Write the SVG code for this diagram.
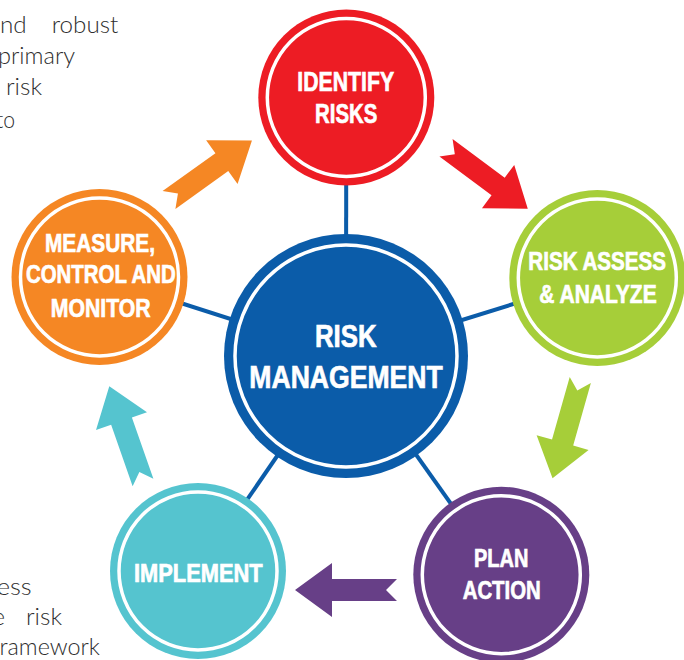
<svg xmlns="http://www.w3.org/2000/svg" xmlns:xlink="http://www.w3.org/1999/xlink" width="684" height="660" viewBox="0 0 684 660">
  <style>
    .body { font-family: Lato, "Liberation Sans", sans-serif; font-weight: 300; font-size: 22.5px; fill: #2e2e2e; }
    .lbl { font-family: "Liberation Sans Narrow", "Liberation Sans", Arial, sans-serif; font-weight: bold; fill: #ffffff; stroke: #ffffff; stroke-width: 0.7; text-anchor: middle; }
    .ring { fill: none; stroke: #ffffff; stroke-width: 3.5; }
    .link { stroke: #0b5ca9; stroke-width: 4; fill: none; }
  </style>
  <defs>
    <!-- block arrow with swallow tail, tail centre at origin, pointing +x -->
    <path id="blockArrow" d="M0,-11 L65,-11 L65,-27 L102,0 L65,27 L65,11 L0,11 L11,0 Z"/>
  </defs>

  <rect width="684" height="660" fill="#ffffff"/>

  <!-- surrounding paragraph text -->
  <g id="page-text" class="body">
    <text x="0" y="33.3" textLength="26.7" lengthAdjust="spacingAndGlyphs">nd</text>
    <text x="51.7" y="33.3" textLength="66.6" lengthAdjust="spacingAndGlyphs">robust</text>
    <text x="-2" y="63.5" textLength="77" lengthAdjust="spacingAndGlyphs">primary</text>
    <text x="6" y="95" textLength="36" lengthAdjust="spacingAndGlyphs">risk</text>
    <text x="-4" y="127.7" textLength="19" lengthAdjust="spacingAndGlyphs">to</text>
    <text x="-3.3" y="595" textLength="35" lengthAdjust="spacingAndGlyphs">ess</text>
    <text x="-7.5" y="625" textLength="12.5" lengthAdjust="spacingAndGlyphs">e</text>
    <text x="26" y="625" textLength="36" lengthAdjust="spacingAndGlyphs">risk</text>
    <text x="-0.5" y="655" textLength="100.5" lengthAdjust="spacingAndGlyphs">ramework</text>
  </g>

  <!-- spokes from the hub to each step -->
  <g id="connectors">
    <line class="link" x1="346" y1="356" x2="346.3" y2="97.5"/>
    <line class="link" x1="346" y1="356" x2="597.3" y2="278"/>
    <line class="link" x1="346" y1="356" x2="501.3" y2="574.7"/>
    <line class="link" x1="346" y1="356" x2="198" y2="571"/>
    <line class="link" x1="346" y1="356" x2="99.5" y2="277"/>
  </g>

  <!-- cycle arrows -->
  <g id="cycle-arrows">
    <use xlink:href="#blockArrow" fill="#f58724" transform="translate(169,200) rotate(-35.6)"/>
    <use xlink:href="#blockArrow" fill="#ed1c24" transform="translate(446,147.7) rotate(36.7)"/>
    <use xlink:href="#blockArrow" fill="#a6ce39" transform="translate(580.3,380) rotate(105.8)"/>
    <use xlink:href="#blockArrow" fill="#673f87" transform="translate(397,590) rotate(180)"/>
    <use xlink:href="#blockArrow" fill="#55c4cf" transform="translate(143,482.5) rotate(-109.3)"/>
  </g>

  <g id="node-hub">
    <circle cx="346" cy="356" r="122" fill="#0b5ca9"/>
    <circle class="ring" cx="346" cy="356" r="111" stroke-width="4"/>
    <text class="lbl" x="345.8" y="347.3" font-size="32" textLength="61.7" lengthAdjust="spacingAndGlyphs">RISK</text>
    <text class="lbl" x="346" y="388.3" font-size="32" textLength="193.4" lengthAdjust="spacingAndGlyphs">MANAGEMENT</text>
  </g>

  <g id="node-identify">
    <circle cx="346.3" cy="97.5" r="88" fill="#ed1c24"/>
    <circle class="ring" cx="346.3" cy="97.5" r="79"/>
    <text class="lbl" x="345.7" y="90.7" font-size="27.5" textLength="96.7" lengthAdjust="spacingAndGlyphs">IDENTIFY</text>
    <text class="lbl" x="346.2" y="122.7" font-size="27.5" textLength="62.3" lengthAdjust="spacingAndGlyphs">RISKS</text>
  </g>

  <g id="node-assess">
    <circle cx="597.3" cy="278" r="88" fill="#a6ce39"/>
    <circle class="ring" cx="597.3" cy="278" r="79"/>
    <text class="lbl" x="597.2" y="270" font-size="25" textLength="137.7" lengthAdjust="spacingAndGlyphs">RISK ASSESS</text>
    <text class="lbl" x="598" y="302.7" font-size="25" textLength="117.4" lengthAdjust="spacingAndGlyphs">&amp; ANALYZE</text>
  </g>

  <g id="node-plan">
    <circle cx="501.3" cy="574.7" r="88" fill="#673f87"/>
    <circle class="ring" cx="501.3" cy="574.7" r="79"/>
    <text class="lbl" x="501.2" y="566.7" font-size="26.5" textLength="54.3" lengthAdjust="spacingAndGlyphs">PLAN</text>
    <text class="lbl" x="501.7" y="599.3" font-size="26.5" textLength="78" lengthAdjust="spacingAndGlyphs">ACTION</text>
  </g>

  <g id="node-implement">
    <circle cx="198" cy="571" r="88" fill="#55c4cf"/>
    <circle class="ring" cx="198" cy="571" r="79"/>
    <text class="lbl" x="198.3" y="582.3" font-size="26" textLength="128.7" lengthAdjust="spacingAndGlyphs">IMPLEMENT</text>
  </g>

  <g id="node-measure">
    <circle cx="99.5" cy="277" r="88" fill="#f58724"/>
    <circle class="ring" cx="99.5" cy="277" r="79"/>
    <text class="lbl" x="100" y="251.7" font-size="26" textLength="110" lengthAdjust="spacingAndGlyphs">MEASURE,</text>
    <text class="lbl" x="100.8" y="283.3" font-size="26" textLength="149.7" lengthAdjust="spacingAndGlyphs">CONTROL AND</text>
    <text class="lbl" x="100.7" y="316.7" font-size="26" textLength="100" lengthAdjust="spacingAndGlyphs">MONITOR</text>
  </g>
</svg>
